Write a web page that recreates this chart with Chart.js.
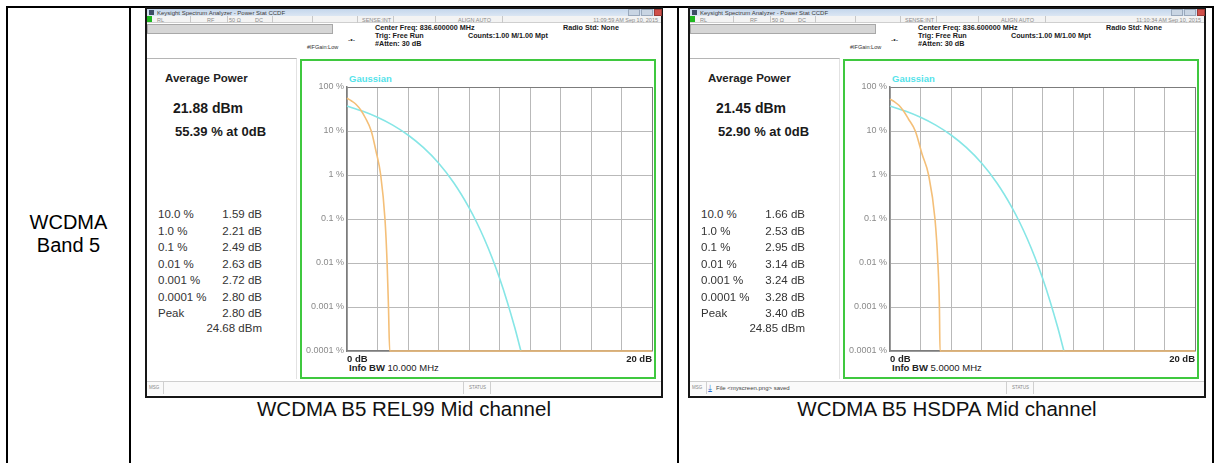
<!DOCTYPE html>
<html>
<head>
<meta charset="utf-8">
<script src="https://cdn.jsdelivr.net/npm/chart.js@4.4.0/dist/chart.umd.min.js"></script>
<style>
  body { margin: 0; width: 1215px; height: 463px; position: relative; overflow: hidden; background: #fff;
         font-family: "Liberation Sans", Arial, sans-serif; }
  .abs { position: absolute; white-space: nowrap; }
  .rule { position: absolute; background: #000; }
  .t { position: absolute; white-space: nowrap; height: 20px; line-height: 20px; }
  canvas { position: absolute; }
</style>
</head>
<body>
<div class="rule" style="left:6px;top:6px;width:1208px;height:2px"></div>
<div class="rule" style="left:6px;top:6px;width:2px;height:457px"></div>
<div class="rule" style="left:129px;top:6px;width:2px;height:457px"></div>
<div class="rule" style="left:677px;top:6px;width:2px;height:457px"></div>
<div class="rule" style="left:1212px;top:6px;width:2px;height:457px"></div>
<div class="t" style="left:8px;width:121px;top:211px;text-align:center;font-size:20px;line-height:23px;height:46px">WCDMA<br>Band 5</div>

<script>
// x axis: power above average (dB), y axis: probability (%)
const xTickValues = [0, 2, 4, 6, 8, 10, 12, 14, 16, 18, 20];
const xEdgeLabels = ['0 dB', '20 dB'];
const yTickValues = [0.0001, 0.001, 0.01, 0.1, 1, 10, 100];
const yTickLabels = ['0.0001 %', '0.001 %', '0.01 %', '0.1 %', '1 %', '10 %', '100 %'];

// measured CCDF traces (orange)
const rel99Db  = [0, 0.3, 0.6, 0.9, 1.2, 1.59, 1.9, 2.21, 2.49, 2.63, 2.72, 2.80, 20];
const rel99Pct = [55.39, 48, 40, 30, 20, 10, 3.5, 1, 0.1, 0.01, 0.001, 0.0001, 0.0001];
const hsdpaDb  = [0, 0.3, 0.6, 0.9, 1.2, 1.66, 2.1, 2.53, 2.95, 3.14, 3.24, 3.28, 20];
const hsdpaPct = [52.90, 46, 38, 28, 19, 10, 3, 1, 0.1, 0.01, 0.001, 0.0001, 0.0001];

// Gaussian reference trace (cyan)
const gaussDb  = [0, 1, 2, 3, 4, 5, 6, 7, 8, 8.5, 9, 9.5, 10, 10.5, 11, 11.4];
const gaussPct = [36.8, 28.4, 20.5, 13.6, 8.11, 4.23, 1.87, 0.666, 0.182, 0.0843, 0.0355, 0.0135, 0.00454, 0.00134, 0.000341, 0.000101];

// left panel readouts
const ccdfLevels   = ['10.0 %', '1.0 %', '0.1 %', '0.01 %', '0.001 %', '0.0001 %', 'Peak'];
const rel99Readout = ['1.59 dB', '2.21 dB', '2.49 dB', '2.63 dB', '2.72 dB', '2.80 dB', '2.80 dB'];
const hsdpaReadout = ['1.66 dB', '2.53 dB', '2.95 dB', '3.14 dB', '3.24 dB', '3.28 dB', '3.40 dB'];

const shots = [
  { x: 145, avg: '21.88 dBm', at0: '55.39 % at 0dB', peak: '24.68 dBm', time: '11:09:59 AM Sep 10, 2015',
    bw: '10.000 MHz', msg: '', db: rel99Db, pct: rel99Pct, readout: rel99Readout, caption: 'WCDMA B5 REL99 Mid channel' },
  { x: 688, avg: '21.45 dBm', at0: '52.90 % at 0dB', peak: '24.85 dBm', time: '11:10:34 AM Sep 10, 2015',
    bw: '5.0000 MHz', msg: 'File &lt;myscreen.png&gt; saved', db: hsdpaDb, pct: hsdpaPct, readout: hsdpaReadout, caption: 'WCDMA B5 HSDPA Mid channel' }
];

const ORANGE = '#f4bf78';
const CYAN = '#86e6e6';

function box(x, y, w, h, css) {
  const d = document.createElement('div');
  d.className = 'abs';
  d.style.cssText += `left:${x}px;top:${y}px;width:${w}px;height:${h}px;box-sizing:border-box;${css || ''}`;
  document.body.appendChild(d);
  return d;
}

function txt(x, yc, s, css, right) {
  const d = document.createElement('div');
  d.className = 't';
  d.innerHTML = s;
  if (right) d.style.cssText += `left:${x - 300}px;width:300px;text-align:right;`;
  else d.style.cssText += `left:${x}px;`;
  d.style.cssText += `top:${yc - 10}px;${css || ''}`;
  document.body.appendChild(d);
  return d;
}

function buildShot(s, idx) {
  const X = s.x;
  box(X, 7, 518, 391, 'border:2px solid #161616;background:#fff');
  // window title bar
  box(X + 2, 9, 514, 7, 'background:linear-gradient(#c4d6ec,#dbe6f3)');
  box(X + 4, 10, 5, 5, 'background:#3d4d66');
  txt(X + 12, 12.5, 'Keysight Spectrum Analyzer - Power Stat CCDF', 'font-size:6px;color:#3a3a3a');
  box(X + 483, 9, 12, 7, 'background:#c9d5e3;border:1px solid #9aa9bc');
  box(X + 496, 9, 12, 7, 'background:#c9d5e3;border:1px solid #9aa9bc');
  box(X + 509, 9, 8, 7, 'background:#d0504a;border:1px solid #9c3a36');
  // status row
  box(X + 2, 16, 514, 7, 'background:#f3f3f3;border-bottom:1px solid #cfcfcf');
  box(X + 2, 16, 5, 6, 'background:#1fb81f');
  [45, 82, 127, 167, 212, 248, 290, 357].forEach(dx => box(X + dx, 16, 1, 7, 'background:#c8c8c8'));
  const st = 'font-size:5.5px;color:#8a8a8a';
  txt(X + 12, 19.5, 'RL', st);
  txt(X + 62, 19.5, 'RF', st);
  txt(X + 84, 19.5, '50 Ω', st);
  txt(X + 110, 19.5, 'DC', st);
  txt(X + 217, 19.5, 'SENSE:INT', st);
  txt(X + 313, 19.5, 'ALIGN AUTO', st);
  txt(X + 513, 19.5, s.time, st, true);
  // settings header
  box(X + 2, 24, 186, 10, 'background:#d6d6d6;border:1px solid #a8a8a8');
  const hd = 'font-size:7.2px;font-weight:bold;color:#1a1a1a';
  txt(X + 230, 28, 'Center Freq: 836.600000 MHz', hd);
  txt(X + 230, 36, 'Trig: Free Run', hd);
  txt(X + 230, 44, '#Atten: 30 dB', hd);
  txt(X + 323, 36, 'Counts:1.00 M/1.00 Mpt', hd);
  txt(X + 418, 28, 'Radio Std: None', hd);
  txt(X + 203, 40, '-•-', 'font-size:7px;color:#333');
  txt(X + 162, 47, '#IFGain:Low', 'font-size:5.5px;color:#333');
  // left readout panel
  box(X + 2, 58, 150, 321, 'border-top:1px solid #b5b5b5;border-right:1px solid #e2e2e2');
  txt(X + 20, 78, 'Average Power', 'font-size:11.5px;font-weight:bold;color:#222');
  txt(X + 28, 108, s.avg, 'font-size:14px;font-weight:bold;color:#1a1a1a');
  txt(X + 30, 132, s.at0, 'font-size:13px;font-weight:bold;color:#1a1a1a');
  ccdfLevels.forEach((lvl, i) => {
    const y = 214 + i * 16.5;
    txt(X + 13, y, lvl, 'font-size:11.5px;color:#333');
    txt(X + 117, y, s.readout[i], 'font-size:11.5px;color:#333', true);
  });
  txt(X + 117, 328, s.peak, 'font-size:11.5px;color:#333', true);
  // plot frame
  box(X + 155, 59, 356, 320, 'border:2px solid #3fc83f');
  txt(X + 204, 79, 'Gaussian', 'font-size:9.5px;font-weight:bold;color:#55e3ea');
  txt(X + 204, 368, '<b>Info BW</b> ' + s.bw, 'font-size:9.5px;color:#222');
  // bottom message bar
  box(X + 2, 381, 514, 14, 'background:#fafafa;border-top:1px solid #cfcfcf');
  box(X + 18, 382, 1, 12, 'background:#d0d0d0');
  box(X + 318, 382, 1, 12, 'background:#d0d0d0');
  box(X + 345, 382, 1, 12, 'background:#d0d0d0');
  txt(X + 4, 388, 'MSG', 'font-size:4.5px;color:#888');
  txt(X + 324, 388, 'STATUS', 'font-size:4.5px;color:#888');
  if (s.msg) {
    txt(X + 20, 388, '⤓', 'font-size:9px;color:#2a6fd0');
    txt(X + 28, 388, s.msg, 'font-size:6px;color:#444');
  }
  // caption below the screenshot
  txt(X + 259, 409, s.caption, 'font-size:20.5px;color:#111', false).style.cssText += 'transform:translateX(-50%);';

  const cv = document.createElement('canvas');
  cv.id = 'ccdf' + idx;
  cv.width = 353; cv.height = 315;
  cv.style.left = (X + 157) + 'px';
  cv.style.top = '61px';
  document.body.appendChild(cv);
  drawChart(cv, s.db, s.pct);
}

function drawChart(cv, db, pct) {
  const edge = '#7c7c7c', grid = '#b9b9b9';
  new Chart(cv.getContext('2d'), {
    type: 'line',
    data: {
      datasets: [
        { data: db.map((d, i) => ({ x: d, y: pct[i] })), borderColor: ORANGE, borderWidth: 1.6 },
        { data: gaussDb.map((d, i) => ({ x: d, y: gaussPct[i] })), borderColor: CYAN, borderWidth: 1.6 }
      ]
    },
    options: {
      responsive: false,
      animation: false,
      layout: { padding: { top: 26, right: 1, left: 0, bottom: 0 } },
      elements: { point: { radius: 0 }, line: { cubicInterpolationMode: 'monotone', fill: false } },
      datasets: { line: { clip: 4 } },
      plugins: { legend: { display: false }, tooltip: { enabled: false } },
      scales: {
        x: {
          type: 'linear', min: 0, max: 20,
          afterBuildTicks: sc => { sc.ticks = xTickValues.map(v => ({ value: v })); },
          afterFit: sc => { sc.height = 25; },
          grid: { drawTicks: false, lineWidth: 1, color: c => (c.tick && c.tick.value === 20) ? edge : grid },
          border: { color: edge, width: 1.5 },
          ticks: {
            autoSkip: false, maxRotation: 0, align: 'inner', padding: 3,
            color: '#1e1e1e', font: { family: 'Liberation Sans', size: 9.5, weight: 'bold' },
            callback: v => v === 0 ? xEdgeLabels[0] : (v === 20 ? xEdgeLabels[1] : '')
          }
        },
        y: {
          type: 'logarithmic', min: 0.0001, max: 100,
          afterBuildTicks: sc => { sc.ticks = yTickValues.map(v => ({ value: v })); },
          afterFit: sc => { sc.width = 45; },
          grid: { drawTicks: false, lineWidth: 1, color: c => (c.tick && c.tick.value === 100) ? edge : grid },
          border: { color: edge, width: 1.5 },
          ticks: {
            padding: 3, color: '#8a8a8a', font: { family: 'Liberation Sans', size: 9 },
            callback: (v, i) => yTickLabels[i]
          }
        }
      }
    }
  });
}

shots.forEach(buildShot);
</script>
</body>
</html>
